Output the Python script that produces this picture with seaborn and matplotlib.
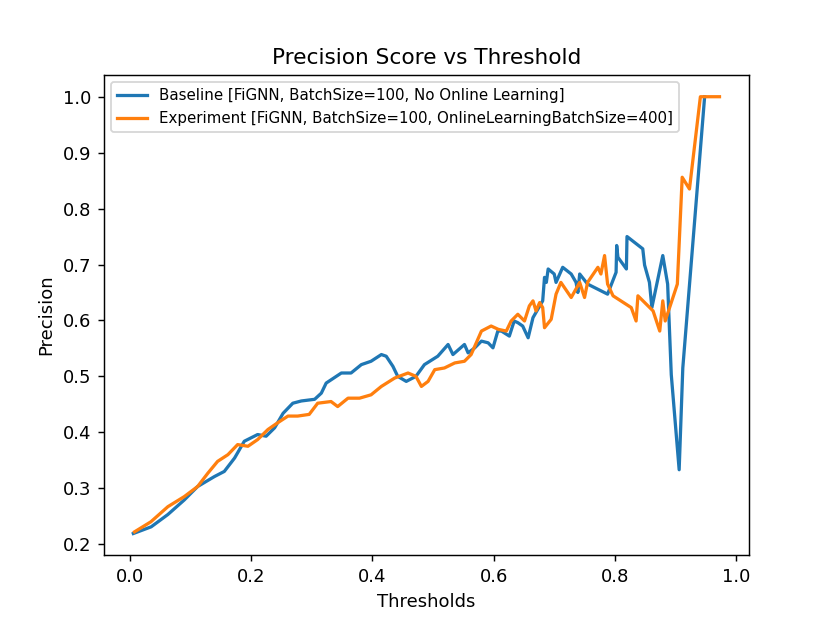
import pandas as pd
import numpy as np
import seaborn as sns
import matplotlib
matplotlib.use("Agg")
import matplotlib.pyplot as plt

#--- values ---
baseline_thr = [0.006, 0.0355, 0.063, 0.090, 0.112, 0.140, 0.156, 0.173, 0.189, 0.211,
                0.225, 0.239, 0.253, 0.269, 0.283, 0.305, 0.316, 0.324, 0.349, 0.365,
                0.382, 0.398, 0.415, 0.423, 0.434, 0.442, 0.456, 0.472, 0.486, 0.508,
                0.525, 0.533, 0.552, 0.558, 0.569, 0.580, 0.591, 0.599, 0.607, 0.613,
                0.626, 0.634, 0.640, 0.648, 0.657, 0.665, 0.673, 0.681, 0.684, 0.687,
                0.690, 0.700, 0.703, 0.714, 0.728, 0.736, 0.739, 0.742, 0.755, 0.788,
                0.802, 0.803, 0.805, 0.819, 0.820, 0.846, 0.849, 0.857, 0.861, 0.879,
                0.887, 0.893, 0.906, 0.912, 0.948]
baseline_prec = [0.219, 0.231, 0.253, 0.279, 0.303, 0.321, 0.330, 0.354, 0.384, 0.396,
                 0.393, 0.408, 0.434, 0.452, 0.456, 0.459, 0.470, 0.488, 0.506, 0.506,
                 0.521, 0.527, 0.539, 0.536, 0.518, 0.500, 0.491, 0.500, 0.521, 0.536,
                 0.557, 0.539, 0.557, 0.542, 0.551, 0.563, 0.560, 0.551, 0.581, 0.581,
                 0.572, 0.599, 0.596, 0.590, 0.569, 0.605, 0.620, 0.635, 0.677, 0.668,
                 0.692, 0.683, 0.668, 0.695, 0.683, 0.668, 0.650, 0.683, 0.665, 0.647,
                 0.686, 0.734, 0.713, 0.692, 0.750, 0.728, 0.699, 0.668, 0.623, 0.716,
                 0.665, 0.503, 0.333, 0.515, 1.000]

experiment_thr = [0.008, 0.035, 0.063, 0.090, 0.112, 0.129, 0.145, 0.162, 0.178, 0.195,
                  0.211, 0.228, 0.244, 0.261, 0.277, 0.296, 0.310, 0.332, 0.343, 0.360,
                  0.379, 0.398, 0.415, 0.437, 0.459, 0.472, 0.481, 0.492, 0.503, 0.519,
                  0.536, 0.552, 0.563, 0.580, 0.596, 0.608, 0.621, 0.629, 0.640, 0.651,
                  0.659, 0.665, 0.670, 0.676, 0.681, 0.684, 0.695, 0.703, 0.711, 0.728,
                  0.742, 0.750, 0.755, 0.772, 0.777, 0.783, 0.788, 0.797, 0.827, 0.835,
                  0.838, 0.863, 0.874, 0.879, 0.883, 0.903, 0.911, 0.923, 0.941, 0.9725]
experiment_prec = [0.222, 0.240, 0.267, 0.285, 0.303, 0.327, 0.348, 0.360, 0.378, 0.375,
                   0.387, 0.405, 0.417, 0.429, 0.429, 0.432, 0.452, 0.455, 0.446, 0.461,
                   0.461, 0.467, 0.482, 0.497, 0.506, 0.500, 0.482, 0.491, 0.512, 0.515,
                   0.524, 0.527, 0.539, 0.581, 0.590, 0.584, 0.581, 0.599, 0.611, 0.599,
                   0.626, 0.635, 0.617, 0.632, 0.623, 0.587, 0.602, 0.647, 0.668, 0.641,
                   0.668, 0.641, 0.668, 0.695, 0.683, 0.716, 0.665, 0.644, 0.623, 0.599,
                   0.644, 0.617, 0.581, 0.635, 0.599, 0.665, 0.856, 0.835, 1.000, 1.000]

labels = ["Baseline [FiGNN, BatchSize=100, No Online Learning]",
          "Experiment [FiGNN, BatchSize=100, OnlineLearningBatchSize=400]"]

df = pd.concat([
    pd.DataFrame({"Thresholds": baseline_thr, "Precision": baseline_prec, "run": labels[0]}),
    pd.DataFrame({"Thresholds": experiment_thr, "Precision": experiment_prec, "run": labels[1]}),
])

#--- plot ---
fig, ax = plt.subplots(figsize=(6.4, 4.8), dpi=130)
sns.lineplot(data=df, x="Thresholds", y="Precision", hue="run",
             palette=["#1f77b4", "#ff7f0e"], estimator=None, sort=False,
             linewidth=1.8, ax=ax)
sns.move_legend(ax, "upper left", title=None, fontsize=8.3)
ax.set_title("Precision Score vs Threshold")
ax.set_xlabel("Thresholds")
ax.set_ylabel("Precision")
fig.savefig("out.png", dpi=130)
